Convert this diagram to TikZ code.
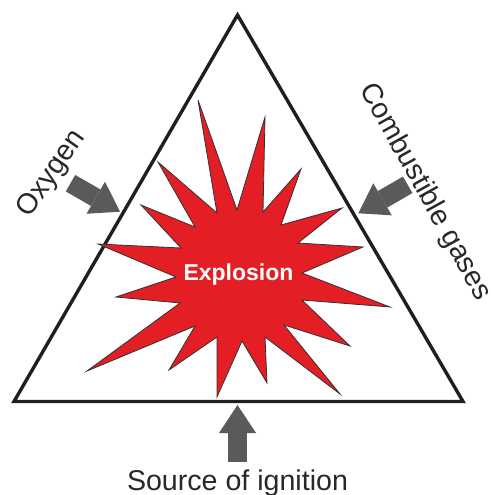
\documentclass[tikz,border=0pt]{standalone}
\usepackage{fontspec}
\setmainfont{Liberation Sans}
\usetikzlibrary{arrows.meta}
\definecolor{burstred}{RGB}{227,30,36}
\definecolor{arrowgray}{RGB}{90,90,90}
\definecolor{labelgray}{RGB}{40,40,40}
\tikzset{
  side/.style={line width=3.4pt, draw=black!88},
  feed/.style={line width=19pt, draw=arrowgray,
    -{Triangle[length=28pt,width=37pt,line width=0pt]}},
  burst/.style={fill=burstred, draw=black!80, line width=0.8pt},
  factor/.style={text=labelgray, font=\fontsize{28.6}{30}\selectfont, inner sep=0pt},
}
\begin{document}
\begin{tikzpicture}[x=1pt,y=-1pt]
  \useasboundingbox (0,0) rectangle (490,495);
  % fire triangle
  \coordinate (top) at (237.5,15);
  \coordinate (right) at (463,401.5);
  \coordinate (left) at (14,401.5);
  \draw[side] (top) -- (right) -- (left) -- cycle;
  % explosion burst
  \filldraw[burst] (198,100) -- (237,210) -- (265,117) -- (263,212) -- (301,169) -- (281,225)
    -- (342,208) -- (298,243) -- (363,247) -- (302,273) -- (390,307) -- (302,300)
    -- (350,346) -- (284,325) -- (340,394) -- (265,337) -- (267,383) -- (242,341)
    -- (217,397) -- (217,337) -- (169,370) -- (195,326) -- (87,371) -- (180,303)
    -- (116,297) -- (176,277) -- (98,244) -- (181,248) -- (141,205) -- (195,227)
    -- (158,162) -- (217,213) -- cycle;
  \node[font=\bfseries\fontsize{23}{24}\selectfont, text=white, anchor=base, inner sep=0pt]
    (explosion) at (238.5,280) {Explosion};
  % the three factors
  \node[factor, rotate=55] (oxygen) at (52,174) {Oxygen};
  \node[factor, rotate=-61] (gases) at (425,192) {Combustible gases};
  \node[factor, anchor=base] (ignition) at (237.5,490) {Source of ignition};
  \coordinate (oxytail) at (70.5,183.2);
  \coordinate (oxytip) at (120,211.7);
  \coordinate (gastail) at (407.7,184.8);
  \coordinate (gastip) at (358.3,213.3);
  \coordinate (igntail) at (237.5,462);
  \coordinate (igntip) at (237.5,405);
  \draw[feed] (oxytail) -- (oxytip);
  \draw[feed] (gastail) -- (gastip);
  \draw[feed] (igntail) -- (igntip);
\end{tikzpicture}
\end{document}
